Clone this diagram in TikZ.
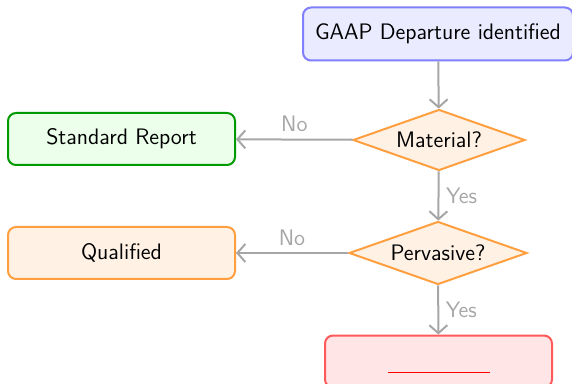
\documentclass[tikz,border=0pt]{standalone}
\usetikzlibrary{shapes.geometric,arrows.meta}

\begin{document}
\begin{tikzpicture}[x=0.5pt,y=-0.5pt,
		every node/.style={font=\sffamily\fontsize{11.2}{13}\selectfont},
		box/.style={draw,rounded corners=4pt,line width=1pt,
			minimum width=113.5pt,minimum height=26pt,inner sep=2pt},
		check/.style={diamond,draw=orange!75,fill=orange!10,line width=1pt,
			aspect=2.8,inner sep=1pt},
		flow/.style={draw=gray!70,line width=1pt,-{Straight Barb[length=4pt,width=9pt]}},
		answer/.style={text=gray!70}]
		
		% we fix the size of the picture
		\useasboundingbox (0,0) rectangle (572,384);
		
		% we place the boxes
		\node[box,draw=blue!50,fill=blue!8,minimum width=135pt,minimum height=26.5pt]
		(start) at (438,34) {GAAP Departure identified};
		\node[box,draw=green!60!black,fill=green!8] (standard) at (121.5,139) {Standard Report};
		\node[box,draw=orange!75,fill=orange!10] (qualified) at (121.5,253) {Qualified};
		\node[box,draw=red!65,fill=red!10] (adverse) at (438.5,361.5)
		{\rule{0pt}{10pt}\color{red}\underline{\hspace{51pt}}};
		
		% we place the two questions
		\node[check,minimum width=86pt,minimum height=30.5pt] (material) at (439,140) {Material?};
		\node[check,minimum width=89pt,minimum height=31.5pt] (pervasive) at (438,253) {Pervasive?};
		
		% we draw the arrows and their answers
		\draw[flow] (start) -- (material);
		\draw[flow] (material) -- node[answer,above] {No} (standard);
		\draw[flow] (material) -- node[answer,right] {Yes} (pervasive);
		\draw[flow] (pervasive) -- node[answer,above] {No} (qualified);
		\draw[flow] (pervasive) -- node[answer,right] {Yes} (adverse);
	\end{tikzpicture}
\end{document}
